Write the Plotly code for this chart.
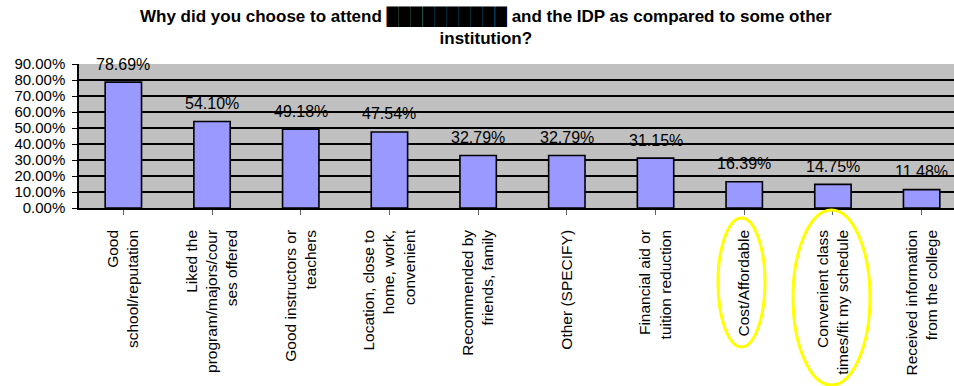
import plotly.graph_objects as go

categories = [
    "Good<br>school/reputation",
    "Liked the<br>program/majors/cour<br>ses offered",
    "Good instructors or<br>teachers",
    "Location, close to<br>home, work,<br>convenient",
    "Recommended by<br>friends, family",
    "Other (SPECIFY)",
    "Financial aid or<br>tuition reduction",
    "Cost/Affordable",
    "Convenient class<br>times/fit my schedule",
    "Received information<br>from the college",
]
values = [0.7869, 0.5410, 0.4918, 0.4754, 0.3279, 0.3279, 0.3115, 0.1639, 0.1475, 0.1148]
value_labels = ["78.69%", "54.10%", "49.18%", "47.54%", "32.79%", "32.79%", "31.15%", "16.39%", "14.75%", "11.48%"]

title_text = ("Why did you choose to attend ██████████ and the IDP as compared to some other"
              "<br>institution?")

W, H = 954, 386
ML, MR, MT, MB = 79, 0, 64, 178
FONT = "Liberation Sans, Arial, sans-serif"

fig = go.Figure()
fig.add_trace(go.Bar(
    x=list(range(len(categories))),
    y=values,
    width=0.41,
    marker=dict(color="#9999FF", line=dict(color="#000000", width=1.6)),
    hoverinfo="skip",
))

for i, (v, lab) in enumerate(zip(values, value_labels)):
    fig.add_annotation(x=i, y=v, text=lab, showarrow=False, yanchor="middle",
                       yshift=18, font=dict(family=FONT, size=16, color="#000000"))

def px_to_paper(x, y):
    pw = W - ML - MR
    ph = H - MT - MB
    return (x - ML) / pw, (H - MB - y) / ph

# title as a paper annotation (two centred lines)
tx, ty = px_to_paper(486, 4)
fig.add_annotation(xref="paper", yref="paper", x=tx, y=ty, xanchor="center", yanchor="top",
                   text=title_text, showarrow=False, align="center",
                   font=dict(family=FONT, size=17, color="#000000", weight="bold"))

# hand-drawn yellow highlight ellipses
for (x0, y0, x1, y1) in [(718, 218, 765, 347), (793, 210, 870, 385)]:
    px0, py1 = px_to_paper(x0, y0)
    px1, py0 = px_to_paper(x1, y1)
    fig.add_shape(type="circle", xref="paper", yref="paper",
                  x0=px0, x1=px1, y0=py0, y1=py1,
                  line=dict(color="#FFFF00", width=3))

fig.update_layout(
    width=W, height=H,
    margin=dict(l=ML, r=MR, t=MT, b=MB, pad=0),
    paper_bgcolor="#FFFFFF",
    plot_bgcolor="#C0C0C0",
    showlegend=False,
    font=dict(family=FONT, size=16, color="#000000"),
    xaxis=dict(
        tickmode="array", tickvals=list(range(len(categories))), ticktext=categories,
        range=[-0.5, 9.365], tickangle=-90,
        showline=True, linecolor="#000000", linewidth=1.5,
        ticks="outside", ticklen=5, tickcolor="#666666", tickson="boundaries",
        ticklabelstandoff=9,
        showgrid=False, zeroline=False,
        tickfont=dict(family=FONT, size=15.5, color="#000000"),
    ),
    yaxis=dict(
        range=[0, 0.9], dtick=0.1, tick0=0, tickformat=".2%",
        showline=True, linecolor="#000000", linewidth=1.5,
        ticks="outside", ticklen=5, tickcolor="#000000",
        ticklabelstandoff=4,
        showgrid=True, gridcolor="#000000", gridwidth=2,
        zeroline=False,
        tickfont=dict(family=FONT, size=15, color="#000000"),
    ),
    bargap=0.59,
)

fig.write_html("out.html")
